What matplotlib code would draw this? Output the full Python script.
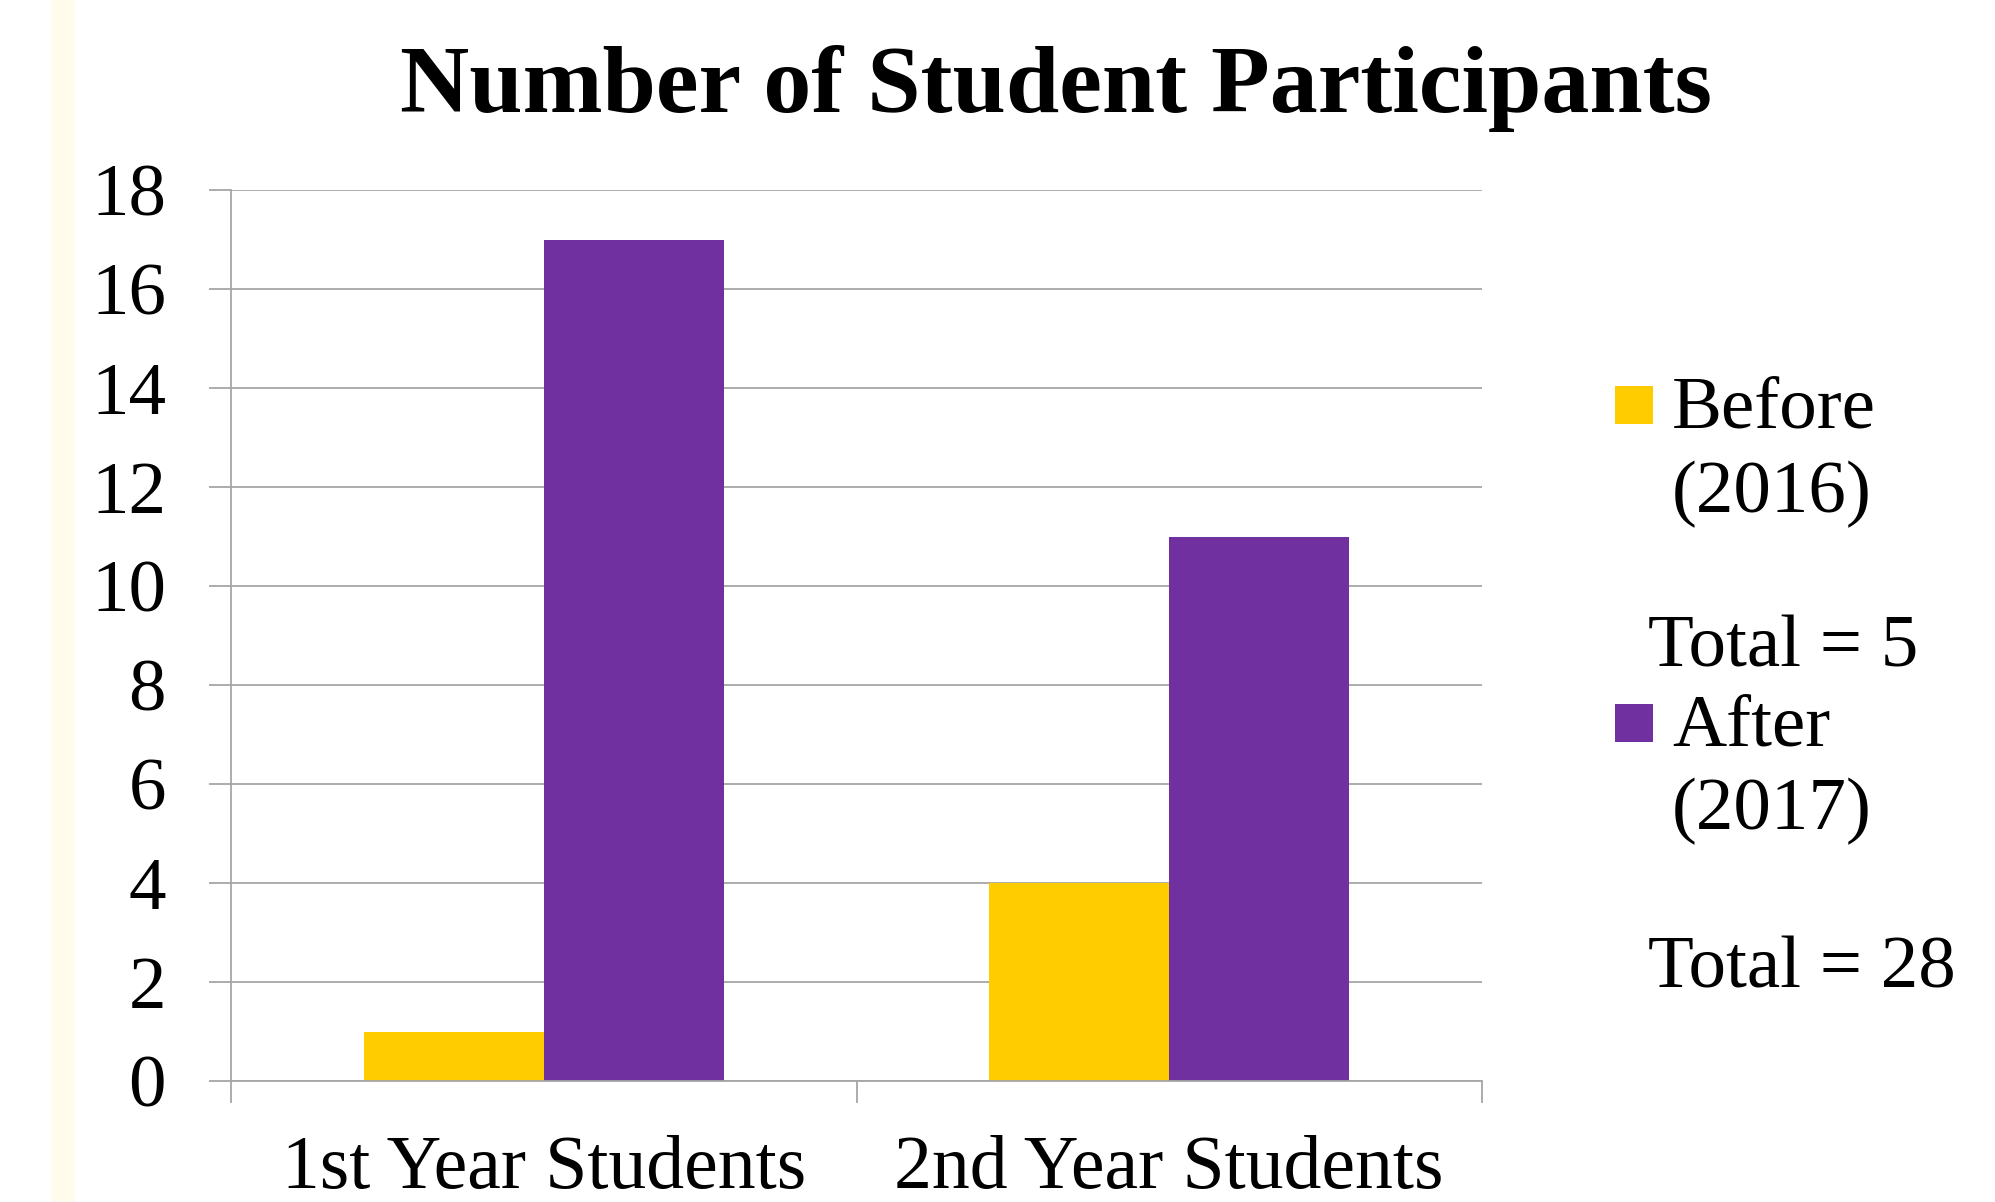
import matplotlib
matplotlib.use("Agg")
import matplotlib.pyplot as plt
from matplotlib.patches import Rectangle
import numpy as np

# ---- data ----
categories = ["1st Year Students", "2nd Year Students"]
series_names = ["Before", "After"]
series_years = ["(2016)", "(2017)"]
before_values = [1, 4]
after_values = [17, 11]
y_ticks = [0, 2, 4, 6, 8, 10, 12, 14, 16, 18]
title = "Number of Student Participants"

colors = ["#FFCC00", "#7030A0"]
grid_col = "#A6A6A6"
W, H = 1995, 1202
DPI = 100

plt.rcParams['font.family'] = ['Liberation Serif', 'DejaVu Serif']

fig = plt.figure(figsize=(W / DPI, H / DPI), dpi=DPI)
fig.patch.set_facecolor("white")

def px(x, y):
    return x / W, 1 - y / H

# cream strip on the left
fig.patches.append(Rectangle((51 / W, 0), 24 / W, 1, transform=fig.transFigure,
                             facecolor="#FFFCEE", edgecolor="none", zorder=0))

left, right = 231 / W, 1482 / W
top, bottom = 1 - 190 / H, 1 - 1081 / H
ax = fig.add_axes([left, bottom, right - left, top - bottom])

x = np.arange(len(categories))
bw = 0.288
ax.bar(x - bw / 2, before_values, width=bw, color=colors[0], zorder=2)
ax.bar(x + bw / 2, after_values, width=bw, color=colors[1], zorder=2)

ax.set_xlim(-0.5, len(categories) - 0.5)
ax.set_ylim(0, 18)
ax.set_yticks(y_ticks)
ax.set_yticklabels([str(v) for v in y_ticks])
ax.yaxis.grid(True, color=grid_col, linewidth=1.3, zorder=0)
ax.set_axisbelow(True)

for s in ["top", "right"]:
    ax.spines[s].set_visible(False)
for s in ["left", "bottom"]:
    ax.spines[s].set_color(grid_col)
    ax.spines[s].set_linewidth(1.3)

ax.tick_params(axis="y", direction="out", length=15.8, width=1.3, color=grid_col,
               pad=31, labelsize=54)
ax.set_xticks(x)
ax.set_xticklabels(categories)
ax.tick_params(axis="x", which="major", length=0, pad=39, labelsize=54.5)
ax.set_xticks(np.arange(-0.5, len(categories)), minor=True)
ax.tick_params(axis="x", which="minor", direction="out", length=15.8, width=1.3,
               color=grid_col)

fig.text(1056 / W, 1 - 89 / H, title, ha="center", va="center",
         fontsize=69, fontweight="bold")

# legend (manual)
totals = [sum(before_values), sum(after_values)]
sq_y = [386, 704]
base_name = [428, 745]
base_year = [512, 829]
base_total = [667, 988]
for i in range(2):
    fig.patches.append(Rectangle(px(1615, sq_y[i] + 38), 38 / W, 38 / H,
                                 transform=fig.transFigure, facecolor=colors[i],
                                 edgecolor="none"))
    fig.text(1672 / W, 1 - base_name[i] / H, series_names[i], ha="left",
             va="baseline", fontsize=54)
    fig.text(1672 / W, 1 - base_year[i] / H, series_years[i], ha="left",
             va="baseline", fontsize=54)
    fig.text(1648 / W, 1 - base_total[i] / H, f"Total = {totals[i]}", ha="left",
             va="baseline", fontsize=54)

fig.savefig("out.png", dpi=DPI)
